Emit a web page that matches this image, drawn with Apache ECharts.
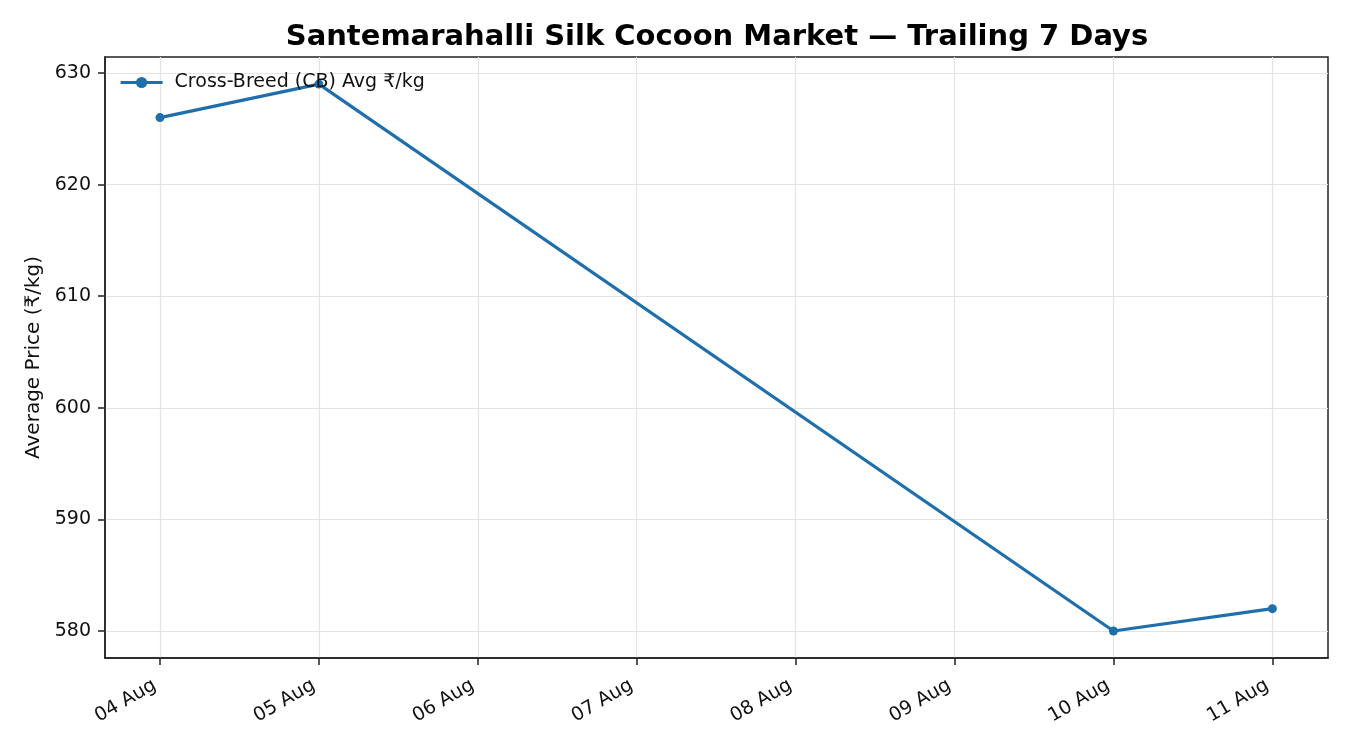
<!DOCTYPE html>
<html>
<head>
<meta charset="utf-8">
<script src="https://cdn.jsdelivr.net/npm/echarts@6/dist/echarts.min.js"></script>
<style>
  html, body { margin: 0; padding: 0; background: #fff; }
  #chart { width: 1350px; height: 750px; }
</style>
</head>
<body>
<div id="chart"></div>
<script>
// Trailing 7 days, no market data 06-09 Aug
const dayLabels = ['04 Aug', '05 Aug', '06 Aug', '07 Aug', '08 Aug', '09 Aug', '10 Aug', '11 Aug'];
const cbPrices = [626, 629, null, null, null, null, 580, 582];
const yTicks = [580, 590, 600, 610, 620, 630];

const chart = echarts.init(document.getElementById('chart'));

const dayIdx = dayLabels.map((d, i) => i);
const seriesData = cbPrices.map((v, i) => [i, v == null ? '-' : v]);

const font = 'DejaVu Sans';
const blue = '#1f6fad';

chart.setOption({
  animation: false,
  title: {
    text: 'Santemarahalli Silk Cocoon Market — Trailing 7 Days',
    left: 712,
    top: 18,
    textAlign: 'center',
    textStyle: { fontFamily: font, fontSize: 29, fontWeight: 'bold', color: '#000' }
  },
  legend: {
    left: 119,
    top: 73,
    padding: 0,
    itemWidth: 42,
    itemHeight: 14,
    lineStyle: { width: 3.2 },
    textStyle: { fontFamily: font, fontSize: 19, color: '#111', padding: [0, 0, 0, 7] },
    data: ['Cross-Breed (CB) Avg ₹/kg']
  },
  grid: { left: 105, right: 22, top: 57, bottom: 92, show: true, borderColor: '#222', borderWidth: 1.5 },
  xAxis: {
    type: 'value',
    min: -0.346,
    max: 7.35,
    axisLine: { show: true, onZero: false, lineStyle: { color: '#222', width: 1.5 } },
    axisTick: { show: true, customValues: dayIdx, length: 7, lineStyle: { color: '#222', width: 1.5 } },
    axisLabel: {
      customValues: dayIdx,
      rotate: 30,
      margin: 23,
      padding: [0, 6, 0, 0],
      fontFamily: font,
      fontSize: 19,
      color: '#111',
      formatter: v => dayLabels[Math.round(v)]
    },
    splitLine: { show: true, lineStyle: { color: '#e3e3e3', width: 1.2 } }
  },
  yAxis: {
    type: 'value',
    min: 577.58,
    max: 631.43,
    name: 'Average Price (₹/kg)',
    nameLocation: 'middle',
    nameGap: 61,
    nameTextStyle: { fontFamily: font, fontSize: 20, color: '#111' },
    axisLine: { show: true, onZero: false, lineStyle: { color: '#222', width: 1.5 } },
    axisTick: { show: true, customValues: yTicks, length: 7, lineStyle: { color: '#222', width: 1.5 } },
    axisLabel: { customValues: yTicks, margin: 14, fontFamily: font, fontSize: 19, color: '#111' },
    splitLine: { show: true, lineStyle: { color: '#e3e3e3', width: 1.2 } }
  },
  series: [{
    name: 'Cross-Breed (CB) Avg ₹/kg',
    type: 'line',
    data: seriesData,
    connectNulls: true,
    symbol: 'circle',
    symbolSize: 9,
    lineStyle: { color: blue, width: 3.2 },
    itemStyle: { color: blue }
  }]
});
</script>
</body>
</html>
